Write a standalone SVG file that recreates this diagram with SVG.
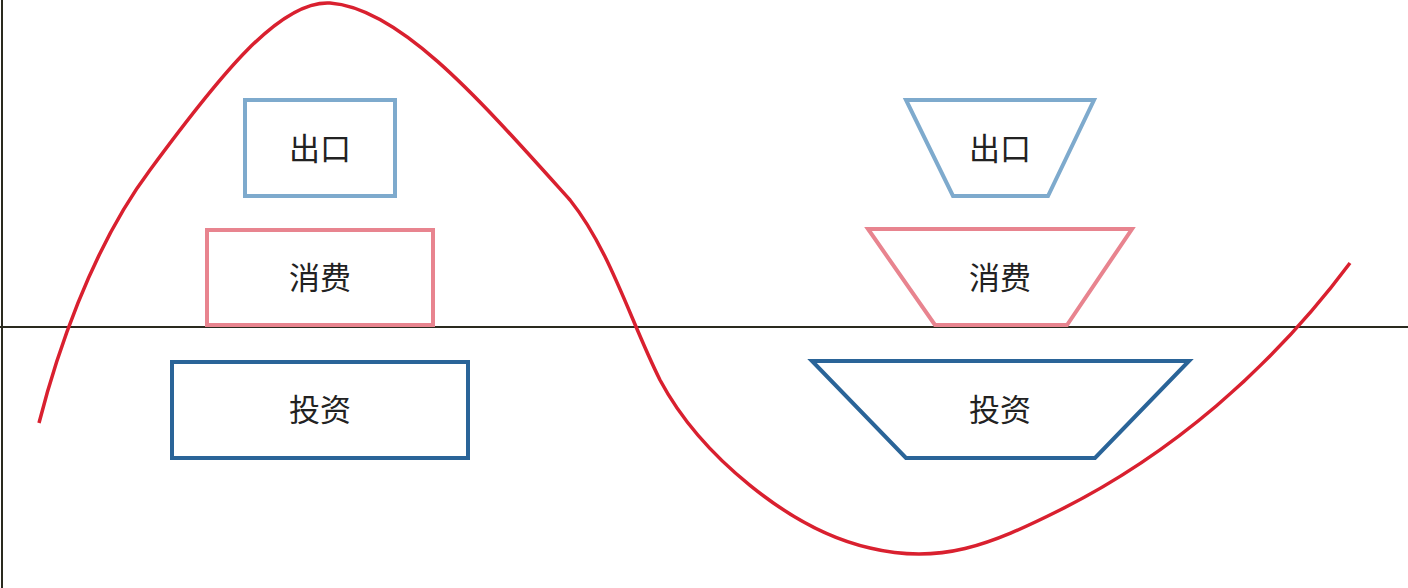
<svg xmlns="http://www.w3.org/2000/svg" width="1408" height="588" viewBox="0 0 1408 588">
<style>
.lbl{font-family:"Noto Sans CJK SC","Noto Sans CJK JP",sans-serif;font-size:31px;fill:#222;text-anchor:middle;dominant-baseline:central}
.axis{stroke:#2a2a1f;stroke-width:2;fill:none}
.ex{fill:none;stroke:#7eaacd;stroke-width:4}
.co{fill:none;stroke:#e8848f;stroke-width:4}
.iv{fill:none;stroke:#2a6498;stroke-width:4}
</style>
<rect width="1408" height="588" fill="#fff"/>
<g id="axes">
<line class="axis" x1="2" y1="0" x2="2" y2="588"/>
<line class="axis" x1="0" y1="327" x2="1408" y2="327"/>
</g>
<g id="curve">
<path d="M39,423 C55,360 90,250 150,170 C220,75 280,0 330,3 C400,8 480,100 570,200 C610,250 630,320 660,380 C700,455 790,530 870,548 C940,565 990,545 1060,510 C1170,455 1270,370 1350,263" fill="none" stroke="#d9202f" stroke-width="3.5"/>
</g>
<g id="left-export"><rect class="ex" x="245" y="100" width="150" height="96"/><text class="lbl" x="320" y="146">出口</text></g>
<g id="left-consume"><rect class="co" x="207" y="230" width="226" height="95"/><text class="lbl" x="320" y="275">消费</text></g>
<g id="left-invest"><rect class="iv" x="172" y="362" width="296" height="96"/><text class="lbl" x="320" y="407">投资</text></g>
<g id="right-export"><polygon class="ex" points="906,100 1094,100 1048,196 953,196"/><text class="lbl" x="1000" y="146">出口</text></g>
<g id="right-consume"><polygon class="co" points="868,229 1132,229 1067,325 935,325"/><text class="lbl" x="1000" y="275">消费</text></g>
<g id="right-invest"><polygon class="iv" points="812,361 1189,361 1095,458 906,458"/><text class="lbl" x="1000" y="407">投资</text></g>
</svg>
